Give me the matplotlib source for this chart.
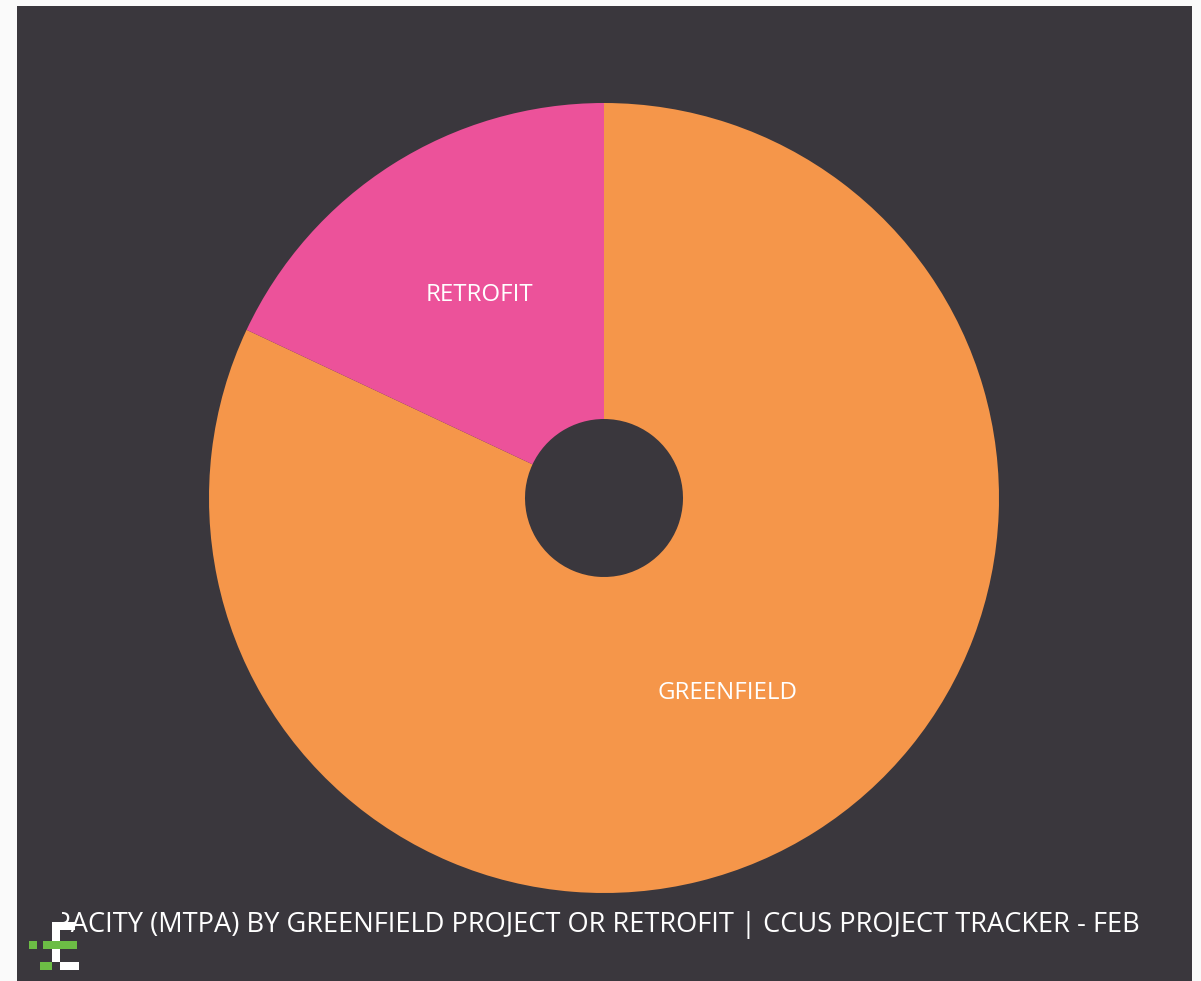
import numpy as np
import matplotlib
matplotlib.use("Agg")
import matplotlib.pyplot as plt
from matplotlib.patches import Rectangle

plt.rcParams['font.family'] = ['Open Sans', 'DejaVu Sans']

# share of capacity (%)
categories = ["GREENFIELD", "RETROFIT"]
shares = [82.0, 18.0]
colors = ["#f5964a", "#ec529a"]

title = "CAPACITY (MTPA) BY GREENFIELD PROJECT OR RETROFIT | CCUS PROJECT TRACKER - FEB"

W, H = 1201, 981
fig = plt.figure(figsize=(W / 100, H / 100), dpi=100, facecolor="#fafafa")

# dark card behind everything
fig.patches.append(Rectangle((17 / W, 0), (1192 - 17) / W, (H - 6) / H,
                             transform=fig.transFigure, facecolor="#3a373d",
                             edgecolor="none", zorder=-1))

cx, cy, r = 604, H - 498, 395
ax = fig.add_axes([(cx - r) / W, (cy - r) / H, 2 * r / W, 2 * r / H])
ax.set_facecolor("none")
wedges, _ = ax.pie(shares, colors=colors, startangle=90, counterclock=False,
                   radius=1.0, wedgeprops=dict(width=0.8, edgecolor="none"))
ax.set_xlim(-1, 1)
ax.set_ylim(-1, 1)
ax.set_aspect("equal")
ax.axis("off")

label_r = [0.585, 0.61]
for w, name, lr in zip(wedges, categories, label_r):
    mid = np.deg2rad((w.theta1 + w.theta2) / 2)
    ax.text(lr * np.cos(mid) + (0.012 if name == "RETROFIT" else 0.0),
            lr * np.sin(mid), name, ha="center", va="center",
            color="white", fontsize=17.3)

# title line, scrolled so the start is hidden under the logo
t = fig.text(1140 / W, 1 - 925 / H, title, ha="right", va="center",
             color="white", fontsize=19.6)
clip = Rectangle((62 / W, 0), (1192 - 62) / W, 1, transform=fig.transFigure)
t.set_clip_path(clip)

# small logo in the corner
logo = [
    (52, 922, 8, 40, "white"),
    (52, 922, 23, 8, "white"),
    (43, 941, 34, 8, "#6cbd45"),
    (29, 941, 8, 8, "#6cbd45"),
    (40, 962, 12, 8, "#6cbd45"),
    (60, 962, 19, 8, "white"),
]
for x, y, w, h, c in logo:
    fig.patches.append(Rectangle((x / W, 1 - (y + h) / H), w / W, h / H,
                                 transform=fig.transFigure, facecolor=c,
                                 edgecolor="none", zorder=3))

fig.savefig("out.png", dpi=100, facecolor=fig.get_facecolor())
